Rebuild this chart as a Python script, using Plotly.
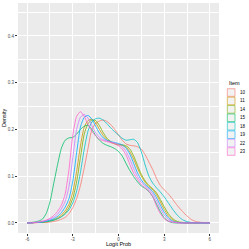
import plotly.graph_objects as go

# ---------------- data ----------------
x_grid = [-6.0, -5.75, -5.5, -5.25, -5.0, -4.75, -4.5, -4.25, -4.0, -3.75,
          -3.5, -3.25, -3.0, -2.75, -2.5, -2.25, -2.0, -1.75, -1.5, -1.25,
          -1.0, -0.75, -0.5, -0.25, 0.0, 0.25, 0.5, 0.75, 1.0, 1.25,
          1.5, 1.75, 2.0, 2.25, 2.5, 2.75, 3.0, 3.25, 3.5, 3.75,
          4.0, 4.25, 4.5, 4.75, 5.0, 5.25, 5.5, 5.75, 6.0]

items = ["10", "11", "14", "15", "18", "19", "22", "23"]

dens_10 = [0, 0, 0, 0.001, 0.001, 0.001, 0.002, 0.003, 0.005, 0.008,
           0.012, 0.020, 0.033, 0.052, 0.080, 0.118, 0.160, 0.200, 0.213, 0.218,
           0.220, 0.217, 0.210, 0.200, 0.188, 0.177, 0.169, 0.166, 0.165, 0.163,
           0.158, 0.146, 0.130, 0.114, 0.095, 0.080, 0.071, 0.063, 0.053, 0.042,
           0.032, 0.023, 0.015, 0.008, 0.004, 0.002, 0.001, 0, 0]
dens_11 = [0, 0, 0.001, 0.001, 0.002, 0.003, 0.005, 0.007, 0.011, 0.017,
           0.026, 0.040, 0.066, 0.110, 0.165, 0.205, 0.219, 0.222, 0.214, 0.200,
           0.187, 0.178, 0.172, 0.169, 0.167, 0.166, 0.162, 0.152, 0.136, 0.117,
           0.100, 0.087, 0.078, 0.071, 0.060, 0.045, 0.029, 0.016, 0.008, 0.003,
           0.001, 0, 0, 0, 0, 0, 0, 0, 0]
dens_14 = [0, 0, 0.001, 0.001, 0.001, 0.002, 0.004, 0.006, 0.009, 0.014,
           0.021, 0.033, 0.053, 0.088, 0.140, 0.190, 0.213, 0.220, 0.219, 0.208,
           0.193, 0.181, 0.174, 0.170, 0.168, 0.167, 0.165, 0.158, 0.143, 0.123,
           0.104, 0.090, 0.080, 0.073, 0.064, 0.050, 0.035, 0.021, 0.011, 0.005,
           0.002, 0.001, 0, 0, 0, 0, 0, 0, 0]
dens_15 = [0, 0.001, 0.002, 0.004, 0.008, 0.020, 0.045, 0.085, 0.125, 0.160,
           0.177, 0.182, 0.183, 0.190, 0.200, 0.207, 0.209, 0.200, 0.187, 0.177,
           0.170, 0.166, 0.163, 0.159, 0.153, 0.143, 0.127, 0.112, 0.099, 0.088,
           0.079, 0.074, 0.067, 0.056, 0.040, 0.024, 0.011, 0.004, 0.001, 0,
           0, 0, 0, 0, 0, 0, 0, 0, 0]
dens_18 = [0, 0, 0.001, 0.001, 0.002, 0.003, 0.004, 0.006, 0.009, 0.013,
           0.019, 0.028, 0.043, 0.068, 0.108, 0.158, 0.197, 0.216, 0.223, 0.224,
           0.220, 0.212, 0.203, 0.195, 0.188, 0.181, 0.177, 0.178, 0.179, 0.172,
           0.152, 0.124, 0.100, 0.085, 0.075, 0.066, 0.056, 0.044, 0.032, 0.021,
           0.012, 0.006, 0.003, 0.001, 0, 0, 0, 0, 0]
dens_19 = [0, 0, 0.001, 0.001, 0.002, 0.004, 0.006, 0.009, 0.014, 0.022,
           0.034, 0.052, 0.090, 0.150, 0.205, 0.226, 0.230, 0.222, 0.207, 0.192,
           0.182, 0.177, 0.174, 0.172, 0.170, 0.167, 0.160, 0.147, 0.127, 0.107,
           0.092, 0.082, 0.075, 0.067, 0.054, 0.038, 0.023, 0.012, 0.005, 0.002,
           0.001, 0, 0, 0, 0, 0, 0, 0, 0]
dens_22 = [0, 0, 0.001, 0.002, 0.003, 0.005, 0.008, 0.012, 0.019, 0.030,
           0.046, 0.078, 0.140, 0.200, 0.226, 0.232, 0.224, 0.208, 0.193, 0.183,
           0.178, 0.175, 0.173, 0.171, 0.168, 0.163, 0.153, 0.136, 0.116, 0.099,
           0.087, 0.079, 0.072, 0.062, 0.047, 0.031, 0.017, 0.008, 0.003, 0.001,
           0, 0, 0, 0, 0, 0, 0, 0, 0]
dens_23 = [0, 0, 0.001, 0.002, 0.004, 0.006, 0.010, 0.016, 0.025, 0.038,
           0.062, 0.115, 0.188, 0.228, 0.238, 0.228, 0.211, 0.196, 0.186, 0.179,
           0.176, 0.174, 0.172, 0.169, 0.165, 0.158, 0.145, 0.125, 0.106, 0.093,
           0.082, 0.075, 0.068, 0.056, 0.036, 0.020, 0.009, 0.004, 0.002, 0.001,
           0, 0, 0, 0, 0, 0, 0, 0, 0]

series = [dens_10, dens_11, dens_14, dens_15, dens_18, dens_19, dens_22, dens_23]
colors = ["#F8766D", "#CD9600", "#7CAE00", "#00BE67",
          "#00BFC4", "#00A9FF", "#C77CFF", "#FF61CC"]

x_ticks = [-6, -3, 0, 3, 6]
y_ticks = [0.0, 0.1, 0.2, 0.3, 0.4]
y_tick_text = ["0.0", "0.1", "0.2", "0.3", "0.4"]

# ---------------- figure ----------------
W, H = 249, 249
ML, MR, MT, MB = 18, 30, 3, 16
PW, PH = W - ML - MR, H - MT - MB

def px(xp):
    return (xp - ML) / PW

def py(yp):
    return (H - MB - yp) / PH

fig = go.Figure()
for name, vals, col in zip(items, series, colors):
    fig.add_trace(go.Scatter(
        x=x_grid, y=vals, mode="lines", name=name,
        line=dict(color=col, width=0.8, shape="spline", smoothing=0.6),
        showlegend=False, hoverinfo="skip"))

FONT = "Liberation Sans, Arial, sans-serif"

fig.update_layout(
    width=W, height=H,
    margin=dict(l=ML, r=MR, t=MT, b=MB, pad=0),
    paper_bgcolor="white", plot_bgcolor="#EBEBEB",
    font=dict(family=FONT, size=5, color="#4D4D4D"),
    xaxis=dict(range=[-6.6, 6.6], tickvals=x_ticks, ticktext=[str(v) for v in x_ticks],
               showgrid=True, gridcolor="white", gridwidth=0.9,
               minor=dict(showgrid=True, gridcolor="white", gridwidth=0.4, dtick=1.5, tick0=0),
               zeroline=False, showline=False, ticks="outside", ticklen=2,
               tickwidth=0.5, tickcolor="#333333", automargin=False,
               tickfont=dict(size=4.5, color="#4D4D4D", family=FONT)),
    yaxis=dict(range=[-0.0215, 0.4705], tickvals=y_ticks, ticktext=y_tick_text,
               showgrid=True, gridcolor="white", gridwidth=0.9,
               minor=dict(showgrid=True, gridcolor="white", gridwidth=0.4, dtick=0.05, tick0=0),
               zeroline=False, showline=False, ticks="outside", ticklen=2,
               tickwidth=0.5, tickcolor="#333333", automargin=False,
               tickfont=dict(size=4.5, color="#4D4D4D", family=FONT)),
    showlegend=False,
)

annotations = [
    dict(text="Logit Prob", x=px(118.5), y=py(244.3), xref="paper", yref="paper",
         showarrow=False, font=dict(size=5.5, color="black", family=FONT),
         xanchor="center", yanchor="middle"),
    dict(text="Density", x=px(4), y=py(118), xref="paper", yref="paper",
         showarrow=False, textangle=-90, font=dict(size=5.5, color="black", family=FONT),
         xanchor="center", yanchor="middle"),
    dict(text="Item", x=px(227.3), y=py(83), xref="paper", yref="paper",
         showarrow=False, font=dict(size=5.5, color="black", family=FONT),
         xanchor="left", yanchor="middle"),
]
shapes = []
key_top0, key_step = 88.3, 8.43
for i, (name, col) in enumerate(zip(items, colors)):
    top = key_top0 + key_step * i
    shapes.append(dict(type="rect", xref="paper", yref="paper",
                       x0=px(227.3), x1=px(235.0), y0=py(top + 0.4), y1=py(top + key_step - 0.4),
                       fillcolor="#F2F2F2", line=dict(color=col, width=0.6), layer="above"))
    annotations.append(dict(text=name, x=px(237.8), y=py(top + key_step / 2), xref="paper", yref="paper",
                            showarrow=False, font=dict(size=4.5, color="black", family=FONT),
                            xanchor="left", yanchor="middle"))

fig.update_layout(annotations=annotations, shapes=shapes)
fig.write_html("out.html", config={"displayModeBar": False},
               post_script="document.body.style.margin='0';document.body.style.overflow='hidden';")
